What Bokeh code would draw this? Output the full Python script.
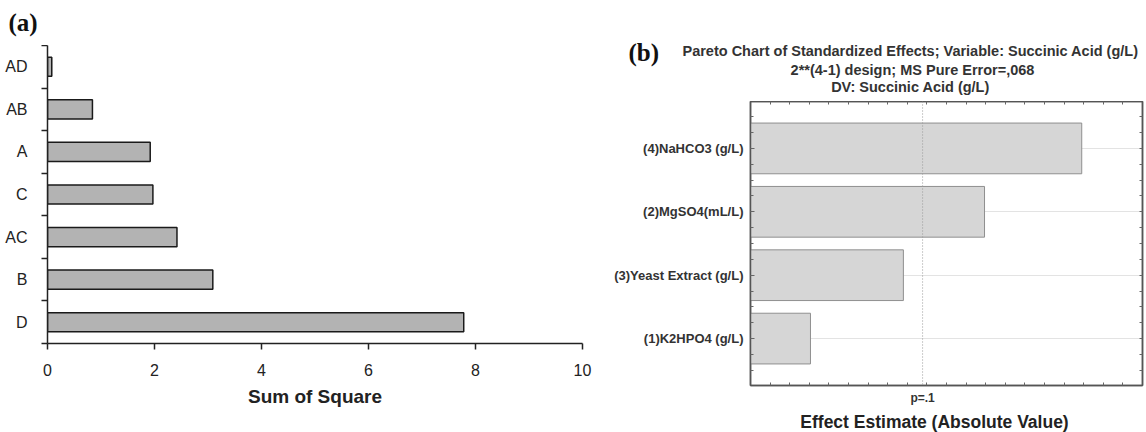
from bokeh.plotting import figure
from bokeh.models import Range1d, FixedTicker, LinearAxis, Label, Span, ColumnDataSource
from bokeh.layouts import row, column
from bokeh.embed import file_html
from bokeh.resources import INLINE

# ---------------- data: panel (a) ----------------
a_factors = ["D", "B", "AC", "C", "A", "AB", "AD"]          # bottom -> top
a_values = [7.78, 3.09, 2.42, 1.97, 1.92, 0.84, 0.08]
a_xticks = [0, 2, 4, 6, 8, 10]
a_xlabel = "Sum of Square"
a_tag = "(a)"

# ---------------- data: panel (b) ----------------
b_factors = ["(1)K2HPO4 (g/L)", "(3)Yeast Extract (g/L)", "(2)MgSO4(mL/L)", "(4)NaHCO3 (g/L)"]  # bottom -> top
b_values = [3.06, 7.80, 11.94, 16.90]
b_pcrit = 8.78
b_pcrit_label = "p=.1"
b_xlabel = "Effect Estimate (Absolute Value)"
b_title = ["Pareto Chart of Standardized Effects; Variable:  Succinic Acid (g/L)",
           "2**(4-1) design; MS Pure Error=,068",
           "DV:  Succinic Acid (g/L)"]
b_tag = "(b)"

FONT = "Liberation Sans"
SERIF = "Liberation Serif"


def text_strip(w, h):
    """A bare figure used only to hold free text outside the plot frames."""
    f = figure(width=w, height=h, x_range=Range1d(0, w), y_range=Range1d(0, h),
               output_backend="svg", toolbar_location=None, x_axis_type=None, y_axis_type=None,
               min_border_left=0, min_border_right=0, min_border_top=0, min_border_bottom=0)
    f.outline_line_color = None
    f.grid.grid_line_color = None
    f.title.text = ""
    return f


# ================= panel (a) =================
ha = text_strip(600, 45)
ha.add_layout(Label(x=8, y=23, text=a_tag, text_align="left", text_baseline="middle",
                    text_font=SERIF, text_font_style="bold", text_font_size="25px",
                    text_color="#111"))

a_pos = [i + 0.5 for i in range(len(a_factors))]
src_a = ColumnDataSource(dict(y=a_pos, v=a_values, f=a_factors))

p1 = figure(width=600, height=387, x_range=Range1d(0, 10), y_range=Range1d(0, len(a_factors)),
            output_backend="svg", toolbar_location=None,
            min_border_left=47, min_border_right=18, min_border_top=0, min_border_bottom=89)
p1.title.text = ""
p1.outline_line_color = None
p1.grid.grid_line_color = None
p1.background_fill_color = "white"
p1.border_fill_color = "white"

p1.hbar(y="y", right="v", left=0, height=0.45, source=src_a,
        fill_color="#b3b3b3", line_color="#1a1a1a", line_width=1.5)

xa = p1.xaxis[0]
xa.ticker = FixedTicker(ticks=a_xticks, minor_ticks=[])
xa.axis_line_color = "#222"
xa.axis_line_width = 1.5
xa.major_tick_line_color = "#222"
xa.major_tick_line_width = 1.5
xa.major_tick_out = 6
xa.major_tick_in = 0
xa.minor_tick_line_color = None
xa.major_label_text_font = FONT
xa.major_label_text_font_size = "16px"
xa.major_label_text_color = "#222"
xa.major_label_standoff = 14
xa.axis_label = a_xlabel
xa.axis_label_text_font = FONT
xa.axis_label_text_font_size = "19px"
xa.axis_label_text_font_style = "bold"
xa.axis_label_text_color = "#222"
xa.axis_label_standoff = 7

ya = p1.yaxis[0]
ya.ticker = FixedTicker(ticks=a_pos, minor_ticks=list(range(len(a_factors) + 1)))
ya.major_label_overrides = {p: f for p, f in zip(a_pos, a_factors)}
ya.axis_line_color = "#222"
ya.axis_line_width = 1.5
ya.major_tick_line_color = None
ya.major_tick_out = 0
ya.major_tick_in = 0
ya.minor_tick_line_color = "#222"
ya.minor_tick_line_width = 1.5
ya.minor_tick_out = 6
ya.minor_tick_in = 0
ya.major_label_text_font = FONT
ya.major_label_text_font_size = "16px"
ya.major_label_text_color = "#222"
ya.major_label_standoff = 14

# ================= panel (b) header (tag + title lines) =================
hb = text_strip(546, 101)
title_y = [51, 32, 15]
for t, ty in zip(b_title, title_y):
    hb.add_layout(Label(x=312, y=ty, text=t, text_align="center", text_baseline="middle",
                        text_font=FONT, text_font_style="bold", text_font_size="14.5px",
                        text_color="#333"))
hb.add_layout(Label(x=28, y=49, text=b_tag, text_align="left", text_baseline="middle",
                    text_font=SERIF, text_font_style="bold", text_font_size="25px",
                    text_color="#111"))

# ================= panel (b) =================
b_pos = list(range(len(b_factors)))
src_b = ColumnDataSource(dict(y=b_pos, v=b_values, f=b_factors))
quarter = [q * 0.25 for q in range(-2, 4 * len(b_factors) - 1)]
ones = list(range(0, 21))

p2 = figure(width=546, height=306, x_range=Range1d(0, 20), y_range=Range1d(-0.74, 3.74),
            output_backend="svg", toolbar_location=None,
            min_border_left=150, min_border_right=4, min_border_top=0, min_border_bottom=22)
p2.title.text = ""
p2.outline_line_color = "#555"
p2.outline_line_width = 1.5
p2.background_fill_color = "white"
p2.border_fill_color = "white"
p2.xgrid.grid_line_color = None
p2.ygrid.ticker = FixedTicker(ticks=b_pos, minor_ticks=[])
p2.ygrid.grid_line_color = "#e3e3e3"
p2.ygrid.grid_line_width = 1

p2.hbar(y="y", right="v", left=0, height=0.8, source=src_b,
        fill_color="#d6d6d6", line_color="#8f8f8f", line_width=1)
p2.add_layout(Span(location=b_pcrit, dimension="height", line_color="#999999",
                   line_dash="1 2", line_width=1))


def style_frame_axis(ax):
    ax.axis_line_color = "#555"
    ax.axis_line_width = 1.5
    ax.major_tick_line_color = "#666"
    ax.minor_tick_line_color = "#666"
    ax.major_tick_out = 0
    ax.minor_tick_out = 0


xb = p2.xaxis[0]
style_frame_axis(xb)
xb.ticker = FixedTicker(ticks=[b_pcrit], minor_ticks=ones)
xb.major_label_overrides = {b_pcrit: b_pcrit_label}
xb.major_tick_in = 0
xb.minor_tick_in = 3
xb.major_label_text_font = FONT
xb.major_label_text_font_style = "bold"
xb.major_label_text_font_size = "12px"
xb.major_label_text_color = "#333"
xb.major_label_standoff = 5

yb = p2.yaxis[0]
style_frame_axis(yb)
yb.ticker = FixedTicker(ticks=b_pos, minor_ticks=quarter)
yb.major_label_overrides = {p: f for p, f in zip(b_pos, b_factors)}
yb.major_tick_in = 4
yb.minor_tick_in = 3
yb.major_label_text_font = FONT
yb.major_label_text_font_style = "bold"
yb.major_label_text_font_size = "13px"
yb.major_label_text_color = "#333"
yb.major_label_standoff = 7

top_ax = LinearAxis(ticker=FixedTicker(ticks=[], minor_ticks=ones))
style_frame_axis(top_ax)
top_ax.minor_tick_in = 3
top_ax.major_label_standoff = 0
p2.add_layout(top_ax, "above")

right_ax = LinearAxis(ticker=FixedTicker(ticks=[], minor_ticks=quarter))
style_frame_axis(right_ax)
right_ax.minor_tick_in = 3
right_ax.major_label_standoff = 0
p2.add_layout(right_ax, "right")

# ================= panel (b) footer (x-axis title) =================
fb = text_strip(546, 25)
fb.add_layout(Label(x=334, y=11, text=b_xlabel, text_align="center", text_baseline="middle",
                    text_font=FONT, text_font_style="bold", text_font_size="17.5px",
                    text_color="#222"))

layout = row(column(row(ha), row(p1)), column(row(hb), row(p2), row(fb)))
open("out.html", "w").write(file_html(layout, INLINE))
